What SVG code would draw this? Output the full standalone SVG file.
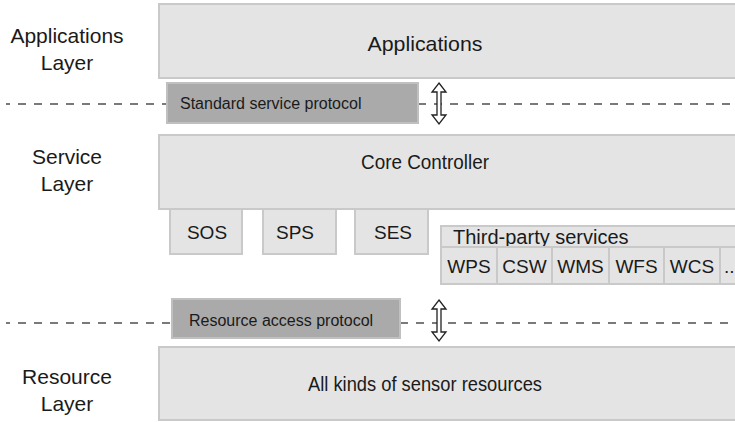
<svg xmlns="http://www.w3.org/2000/svg" width="735" height="422" viewBox="0 0 735 422">
  <defs>
    <style>
      text { font-family: "Liberation Sans", Arial, sans-serif; fill: #1a1a1a; }
      .box { fill: #e4e4e4; stroke: #c9c9c9; stroke-width: 2; }
      .proto { fill: #aaaaaa; stroke: #c0c0c0; stroke-width: 2; }
      .dash { stroke: #7a7a7a; stroke-width: 2.2; stroke-dasharray: 8 8; fill: none; }
      .arrow { fill: #ffffff; stroke: #222222; stroke-width: 1.3; stroke-linejoin: miter; }
      .layer { font-size: 21px; text-anchor: middle; }
      .main { font-size: 21px; text-anchor: middle; }
      .svc { font-size: 19px; text-anchor: middle; }
      .cell { font-size: 19px; text-anchor: middle; }
      .plabel { font-size: 16px; }
    </style>
  </defs>

  <rect width="735" height="422" fill="#ffffff"/>

  <!-- layer names -->
  <g id="layer-labels">
    <text class="layer" x="67" y="43">Applications</text>
    <text class="layer" x="67" y="70">Layer</text>
    <text class="layer" x="67" y="164">Service</text>
    <text class="layer" x="67" y="191">Layer</text>
    <text class="layer" x="67" y="384">Resource</text>
    <text class="layer" x="67" y="411">Layer</text>
  </g>

  <!-- connectors: layer boundaries and protocol arrows -->
  <g id="connectors">
    <path class="dash" d="M6 104 H167" stroke-dashoffset="4"/>
    <path class="dash" d="M418 104 H735" stroke-dashoffset="0"/>
    <path class="dash" d="M6 323 H172" stroke-dashoffset="4"/>
    <path class="dash" d="M400 323 H735" stroke-dashoffset="0"/>
    <path class="arrow" d="M439 83 L446 92 L441 92 L441 115 L446 115 L439 124 L432 115 L437 115 L437 92 L432 92 Z"/>
    <path class="arrow" d="M439 300 L446 309 L441 309 L441 332 L446 332 L439 341 L432 332 L437 332 L437 309 L432 309 Z"/>
  </g>

  <g id="applications">
    <rect class="box" x="159" y="4" width="580" height="74"/>
    <text class="main" x="425" y="51" textLength="115" lengthAdjust="spacingAndGlyphs">Applications</text>
  </g>

  <g id="standard-service-protocol">
    <rect class="proto" x="167" y="83" width="251" height="40"/>
    <text class="plabel" x="180" y="109">Standard service protocol</text>
  </g>

  <g id="core-controller">
    <rect class="box" x="159" y="135" width="580" height="74"/>
    <text class="main" x="425" y="169" textLength="128" lengthAdjust="spacingAndGlyphs">Core Controller</text>
  </g>

  <g id="sos">
    <rect class="box" x="170" y="209" width="72" height="45"/>
    <text class="svc" x="207" y="239">SOS</text>
  </g>
  <g id="sps">
    <rect class="box" x="263" y="209" width="73" height="45"/>
    <text class="svc" x="295" y="239">SPS</text>
  </g>
  <g id="ses">
    <rect class="box" x="355" y="209" width="73" height="45"/>
    <text class="svc" x="393" y="239">SES</text>
  </g>

  <g id="third-party-services">
    <rect class="box" x="441" y="226" width="300" height="21"/>
    <text x="453" y="244" font-size="20">Third-party services</text>
    <rect class="box" x="441" y="247" width="56" height="37"/>
    <rect class="box" x="497" y="247" width="55" height="37"/>
    <rect class="box" x="552" y="247" width="57" height="37"/>
    <rect class="box" x="609" y="247" width="55" height="37"/>
    <rect class="box" x="664" y="247" width="56" height="37"/>
    <rect class="box" x="720" y="247" width="21" height="37"/>
    <text class="cell" x="469" y="273">WPS</text>
    <text class="cell" x="524.5" y="273">CSW</text>
    <text class="cell" x="580.5" y="273">WMS</text>
    <text class="cell" x="636.5" y="273">WFS</text>
    <text class="cell" x="692" y="273">WCS</text>
    <text x="724" y="273" font-size="19">..</text>
  </g>

  <g id="resource-access-protocol">
    <rect class="proto" x="172" y="299" width="228" height="39"/>
    <text class="plabel" x="189" y="326">Resource access protocol</text>
  </g>

  <g id="sensor-resources">
    <rect class="box" x="159" y="347" width="580" height="73"/>
    <text class="main" x="425" y="391" textLength="234" lengthAdjust="spacingAndGlyphs">All kinds of sensor resources</text>
  </g>
</svg>
